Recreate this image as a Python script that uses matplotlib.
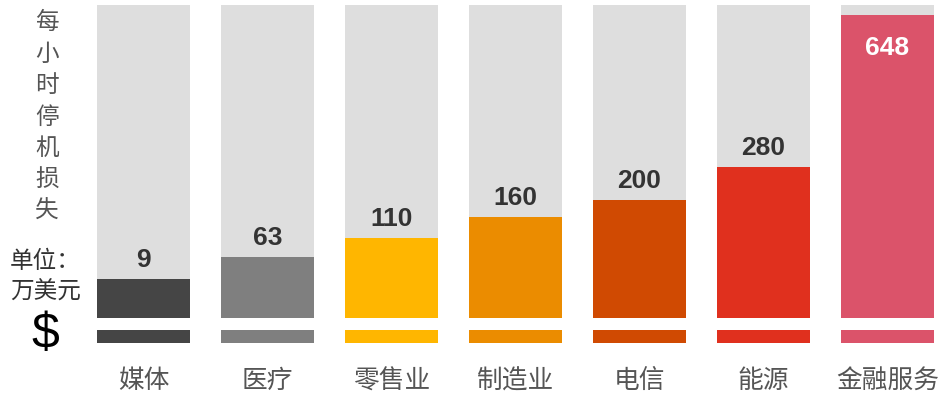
import matplotlib.pyplot as plt

plt.rcParams["font.family"] = ["Noto Sans CJK SC", "DejaVu Sans"]

categories = ["媒体", "医疗", "零售业", "制造业", "电信", "能源", "金融服务"]
values = [9, 63, 110, 160, 200, 280, 648]
colors = ["#454545", "#7f7f7f", "#ffb600", "#eb8c00", "#d04a02", "#e0301e", "#db536a"]

BASE = -85          # colored bars start below zero so small values stay visible
TRACK_TOP = 671     # light gray track behind every bar
STRIP = (-144, -113)  # thin strip under each bar
W = 0.75

fig = plt.figure(figsize=(9.52, 3.98), dpi=100)
ax = fig.add_axes([0, 0, 1, 1])
ax.set_xlim(-1.157, 6.52)
ax.set_ylim(-277, 683)
ax.axis("off")

x = list(range(len(categories)))
ax.bar(x, TRACK_TOP - BASE, bottom=BASE, width=W, color="#dedede", zorder=1)
ax.bar(x, [v - BASE for v in values], bottom=BASE, width=W, color=colors, zorder=2)
ax.bar(x, STRIP[1] - STRIP[0], bottom=STRIP[0], width=W, color=colors, zorder=2)

for i, v in enumerate(values):
    if v > 500:
        ax.annotate(str(v), (i, v), xytext=(0, -33), textcoords="offset pixels",
                    ha="center", va="center", fontsize=19, fontweight="bold",
                    color="white", family="Liberation Sans", zorder=3)
    else:
        ax.annotate(str(v), (i, v), xytext=(0, 7), textcoords="offset pixels",
                    ha="center", va="bottom", fontsize=19, fontweight="bold",
                    color="#333333", family="Liberation Sans", zorder=3)
    ax.text(i, -237, categories[i], ha="center", va="center", fontsize=18.5, color="#555555")

# left-side label, one character per line
fig.text(47 / 952, 1 - 117 / 398, "\n".join("每小时停机损失"), ha="center", va="center",
         fontsize=17, color="#555555", linespacing=1.47)
fig.text(10 / 952, 1 - 262 / 398, "单位：", ha="left", va="center", fontsize=17, color="#333333")
fig.text(10 / 952, 1 - 292 / 398, "万美元", ha="left", va="center", fontsize=17, color="#333333")
fig.text(45 / 952, 1 - 335 / 398, "$", ha="center", va="center", fontsize=36,
         color="black", family="Liberation Sans")

fig.savefig("out.png", dpi=100)
